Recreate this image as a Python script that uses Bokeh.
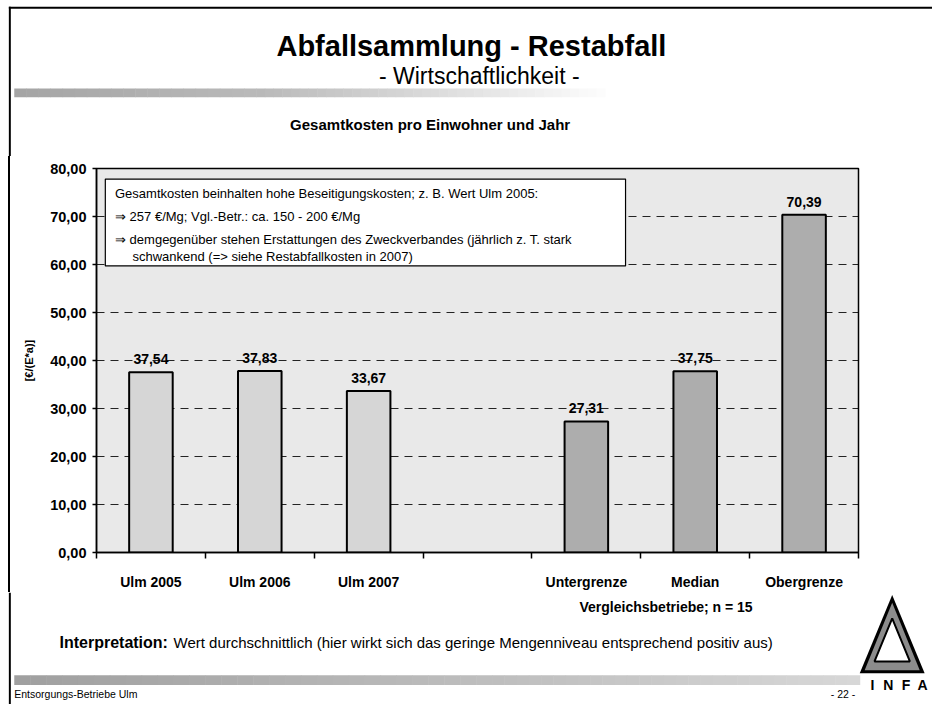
from bokeh.plotting import figure
from bokeh.models import Range1d, FixedTicker, BoxAnnotation, Div
from bokeh.layouts import column, row
from bokeh.core.properties import value
from bokeh.embed import file_html
from bokeh.resources import INLINE

# ---------------- data ----------------
title = "Abfallsammlung - Restabfall"
subtitle = "- Wirtschaftlichkeit -"
chart_title = "Gesamtkosten pro Einwohner und Jahr"

ulm_categories = ["Ulm 2005", "Ulm 2006", "Ulm 2007"]
ulm_values = [37.54, 37.83, 33.67]
cmp_categories = ["Untergrenze", "Median", "Obergrenze"]
cmp_values = [27.31, 37.75, 70.39]

y_ticks = [0, 10, 20, 30, 40, 50, 60, 70, 80]
y_tick_labels = ["0,00", "10,00", "20,00", "30,00", "40,00", "50,00", "60,00", "70,00", "80,00"]
y_axis_title = "[€/(E*a)]"

group_note = "Vergleichsbetriebe; n = 15"
note_lines = [
    "Gesamtkosten beinhalten hohe Beseitigungskosten; z. B. Wert Ulm 2005:",
    "\u21d2 257 €/Mg; Vgl.-Betr.: ca. 150 - 200 €/Mg",
    "\u21d2 demgegenüber stehen Erstattungen des Zweckverbandes (jährlich z. T. stark",
    "schwankend (=> siehe Restabfallkosten in 2007)",
]
interpretation_head = "Interpretation:"
interpretation_text = "Wert durchschnittlich (hier wirkt sich das geringe Mengenniveau entsprechend positiv aus)"
footer_left = "Entsorgungs-Betriebe Ulm"
footer_page = "- 22 -"
logo_letters = ["I", "N", "F", "A"]

# ---------------- helpers ----------------
FONT = value("Liberation Sans")
W, H = 932, 704
REF_W, REF_H = 948.0, 720.0
SX, SY = W / REF_W, H / REF_H


def fmt(v):
    return f"{v:.2f}".replace(".", ",")


def canvas(w, h, x0, y0):
    # canvas in reference-page coordinates (y downwards)
    x1 = x0 + w / SX
    y1 = y0 + h / SY
    f = figure(width=w, height=h, x_range=Range1d(x0, x1), y_range=Range1d(y1, y0),
               output_backend="svg", toolbar_location=None, min_border=0,
               x_axis_location=None, y_axis_location=None)
    f.grid.visible = False
    f.outline_line_color = None
    f.background_fill_color = "white"
    f.border_fill_color = "white"
    return f, y1


def band(f, x0, x1, y0, y1, c0, c1, n=60):
    step = (x1 - x0) / n
    lefts, rights, cols = [], [], []
    for i in range(n):
        t = i / (n - 1)
        c = [int(round(a + (b - a) * t)) for a, b in zip(c0, c1)]
        lefts.append(x0 + i * step)
        rights.append(x0 + (i + 1) * step + 0.5)
        cols.append("#%02x%02x%02x" % tuple(c))
    f.quad(left=lefts, right=rights, bottom=[y0] * n, top=[y1] * n,
           fill_color=cols, line_color=None)


H_HEAD, H_CHART = 156, 436
H_FOOT = H - H_HEAD - H_CHART
STRIP_W = 10

# ---------------- header ----------------
head, head_end = canvas(W, H_HEAD, 0, 0)
head.quad(left=[8.5], right=[948], top=[6.5], bottom=[8.5], fill_color="black", line_color=None)
head.quad(left=[8.5], right=[10.5], top=[6.5], bottom=[head_end], fill_color="black", line_color=None)
head.text(x=[479], y=[47], text=[title], text_align="center", text_baseline="alphabetic",
          text_font=FONT, text_font_style="bold", text_font_size="29px", text_color="black")
head.text(x=[487], y=[77], text=[subtitle], text_align="center", text_baseline="alphabetic",
          text_font=FONT, text_font_size="23px", text_color="black")
band(head, 14, 260, 90, 99, (165, 165, 165), (185, 185, 185), n=20)
band(head, 260, 615, 90, 99, (185, 185, 185), (252, 252, 252), n=40)
head.text(x=[437], y=[127], text=[chart_title], text_align="center", text_baseline="alphabetic",
          text_font=FONT, text_font_style="bold", text_font_size="15px", text_color="black")

# ---------------- left strip (page border) ----------------
strip = Div(text="", width=STRIP_W, height=H_CHART, margin=0,
            styles={"background": "linear-gradient(to right, #ffffff 0px, #ffffff 8px, "
                                   "#000000 8px, #000000 10px)",
                    "padding": "0px", "margin": "0px"})

# ---------------- chart ----------------
n_slots = len(ulm_values) + 1 + len(cmp_values)
ulm_x = [i + 0.5 for i in range(len(ulm_values))]
cmp_x = [len(ulm_values) + 1 + i + 0.5 for i in range(len(cmp_values))]

frame_left = round(98 * SX)
frame_right = round(873 * SX)
frame_top = round(172 * SY)
frame_bottom = round(570 * SY)

p = figure(width=W - STRIP_W, height=H_CHART, x_range=Range1d(0, n_slots), y_range=Range1d(0, 80),
           output_backend="svg", toolbar_location=None,
           min_border_left=frame_left - STRIP_W, min_border_right=W - frame_right,
           min_border_top=frame_top - H_HEAD, min_border_bottom=H_HEAD + H_CHART - frame_bottom)
p.background_fill_color = "#e9e9e9"
p.border_fill_color = "white"
p.outline_line_color = "black"
p.outline_line_width = 1.5

p.vbar(x=ulm_x, top=ulm_values, width=0.4, fill_color="#d6d6d6",
       line_color="black", line_width=2)
p.vbar(x=cmp_x, top=cmp_values, width=0.4, fill_color="#adadad",
       line_color="black", line_width=2)

p.text(x=ulm_x + cmp_x, y=ulm_values + cmp_values,
       text=[fmt(v) for v in ulm_values + cmp_values],
       text_align="center", text_baseline="bottom", y_offset=-8,
       text_font=FONT, text_font_style="bold", text_font_size="14px", text_color="black")

# x axis
centers = ulm_x + cmp_x
p.xaxis.ticker = FixedTicker(ticks=centers, minor_ticks=list(range(n_slots + 1)))
p.xaxis.major_label_overrides = {c: lab for c, lab in zip(centers, ulm_categories + cmp_categories)}
p.xaxis.major_tick_line_color = None
p.xaxis.major_tick_out = 0
p.xaxis.major_tick_in = 0
p.xaxis.minor_tick_line_color = "black"
p.xaxis.minor_tick_out = 6
p.xaxis.minor_tick_in = 0
p.xaxis.minor_tick_line_width = 1.5
p.xaxis.major_label_standoff = 15
p.xaxis.axis_line_width = 1.5
p.xaxis.axis_line_color = "black"
p.xaxis.major_label_text_font = "Liberation Sans"
p.xaxis.major_label_text_font_style = "bold"
p.xaxis.major_label_text_font_size = "14px"
p.xaxis.major_label_text_color = "black"

# y axis
p.yaxis.ticker = FixedTicker(ticks=y_ticks, minor_ticks=[])
p.yaxis.major_label_overrides = {t: lab for t, lab in zip(y_ticks, y_tick_labels)}
p.yaxis.major_tick_out = 4
p.yaxis.major_tick_in = 0
p.yaxis.major_tick_line_color = "black"
p.yaxis.major_tick_line_width = 1.5
p.yaxis.major_label_standoff = 6
p.yaxis.axis_line_width = 1.5
p.yaxis.axis_line_color = "black"
p.yaxis.major_label_text_font = "Liberation Sans"
p.yaxis.major_label_text_font_style = "bold"
p.yaxis.major_label_text_font_size = "14.5px"
p.yaxis.major_label_text_color = "black"
p.yaxis.axis_label = y_axis_title
p.yaxis.axis_label_text_font = "Liberation Sans"
p.yaxis.axis_label_text_font_style = "bold"
p.yaxis.axis_label_text_font_size = "11px"
p.yaxis.axis_label_text_color = "black"
p.yaxis.axis_label_standoff = 12

p.xgrid.visible = False
p.ygrid.grid_line_color = "black"
p.ygrid.grid_line_dash = "8 6"
p.ygrid.grid_line_width = 1
p.ygrid.grid_line_alpha = 0.85

# note box
p.add_layout(BoxAnnotation(left=0.081, right=4.86, bottom=59.7, top=77.8,
                           fill_color="white", fill_alpha=1.0,
                           line_color="black", line_alpha=1.0, line_width=1.2))
note_x = [0.17, 0.17, 0.17, 0.33]
note_y = [74.8, 69.9, 65.3, 61.7]
tr = p.text(x=note_x, y=note_y, text=note_lines, text_baseline="middle", text_align="left",
            text_font=FONT, text_font_size="13px", text_color="black")
tr.level = "overlay"

# ---------------- footer ----------------
foot_start = head_end + H_CHART / SY
foot, foot_end = canvas(W, H_FOOT, 0, foot_start)
foot.quad(left=[8.5], right=[10.5], top=[foot_start], bottom=[foot_end], fill_color="black", line_color=None)
foot.text(x=[677], y=[620], text=[group_note], text_align="center", text_baseline="middle",
          text_font=FONT, text_font_style="bold", text_font_size="14px", text_color="black")
foot.text(x=[60], y=[657], text=[interpretation_head], text_align="left", text_baseline="alphabetic",
          text_font=FONT, text_font_style="bold", text_font_size="16px", text_color="black")
foot.text(x=[176], y=[657], text=[interpretation_text], text_align="left", text_baseline="alphabetic",
          text_font=FONT, text_font_size="15px", text_color="black")
band(foot, 14, 500, 690, 700, (160, 160, 160), (190, 190, 190), n=30)
band(foot, 500, 874, 690, 700, (190, 190, 190), (215, 215, 215), n=30)
foot.text(x=[14], y=[703], text=[footer_left], text_align="left", text_baseline="top",
          text_font=FONT, text_font_size="10.5px", text_color="black")
foot.text(x=[857], y=[703], text=[footer_page], text_align="center", text_baseline="top",
          text_font=FONT, text_font_size="10.5px", text_color="black")
# logo
foot.patch(x=[907, 874, 940], y=[608, 688, 688], fill_color="black", line_color=None)
foot.patch(x=[907, 879, 935], y=[616, 685, 685], fill_color="#8c8c8c", line_color=None)
foot.patch(x=[907, 889, 925], y=[632, 676, 676], fill_color="white", line_color="black", line_width=2)
foot.text(x=[887, 903, 921, 938], y=[692, 692, 692, 692], text=logo_letters,
          text_align="center", text_baseline="top",
          text_font=FONT, text_font_style="bold", text_font_size="14px", text_color="black")

layout = column(head, row(strip, p), foot)
open("out.html", "w").write(file_html(layout, INLINE))
